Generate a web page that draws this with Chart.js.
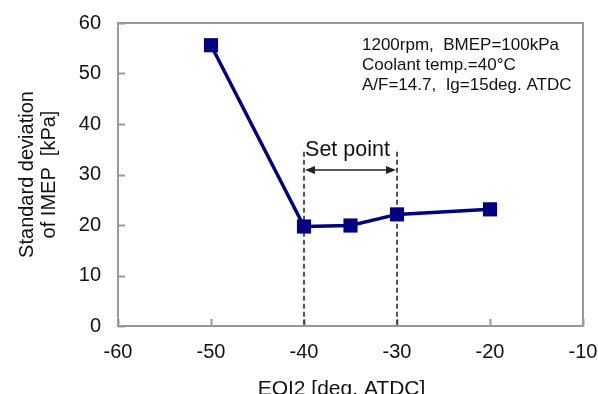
<!DOCTYPE html>
<html>
<head>
<meta charset="utf-8">
<script src="https://cdn.jsdelivr.net/npm/chart.js@4.4.1/dist/chart.umd.min.js"></script>
<style>
  html, body { margin: 0; padding: 0; background: #fff; }
  #chart { display: block; }
</style>
</head>
<body>
<canvas id="chart" width="598" height="394"></canvas>
<script>
const eoi2 = [-50, -40, -35, -30, -20];
const sdImep = [55.6, 19.7, 19.9, 22.1, 23.1];
const xTicks = [-60, -50, -40, -30, -20, -10];
const yTicks = [0, 10, 20, 30, 40, 50, 60];
const setPoint = [-40, -30];
const conditionLines = ['1200rpm,  BMEP=100kPa', 'Coolant temp.=40\u00B0C', 'A/F=14.7,  Ig=15deg. ATDC'];

const FONT = '"Liberation Sans", Arial, sans-serif';

const decor = {
  id: 'decor',
  beforeDatasetsDraw(chart) {
    const { ctx, chartArea: a, scales: { x, y } } = chart;
    ctx.save();
    // frame
    ctx.strokeStyle = '#999';
    ctx.lineWidth = 2;
    ctx.strokeRect(a.left, a.top, a.right - a.left, a.bottom - a.top);
    // inward ticks
    ctx.beginPath();
    yTicks.forEach(v => {
      const py = Math.round(y.getPixelForValue(v)) + 0.5;
      ctx.moveTo(a.left, py);
      ctx.lineTo(a.left + 7, py);
    });
    xTicks.forEach(v => {
      const px = Math.round(x.getPixelForValue(v)) + 0.5;
      ctx.moveTo(px, a.bottom);
      ctx.lineTo(px, a.bottom - 7);
    });
    ctx.stroke();
    // set point dashed lines
    ctx.strokeStyle = '#222';
    ctx.lineWidth = 1.5;
    ctx.setLineDash([5, 3]);
    ctx.beginPath();
    setPoint.forEach(v => {
      const px = x.getPixelForValue(v);
      ctx.moveTo(px, y.getPixelForValue(34.5));
      ctx.lineTo(px, a.bottom);
    });
    ctx.stroke();
    ctx.setLineDash([]);
    // double arrow
    const x1 = x.getPixelForValue(setPoint[0]) + 1;
    const x2 = x.getPixelForValue(setPoint[1]) - 1;
    const ay = y.getPixelForValue(30.9);
    ctx.lineWidth = 1.5;
    ctx.beginPath();
    ctx.moveTo(x1 + 4, ay);
    ctx.lineTo(x2 - 4, ay);
    ctx.stroke();
    ctx.fillStyle = '#222';
    ctx.beginPath();
    ctx.moveTo(x1, ay); ctx.lineTo(x1 + 10, ay - 4); ctx.lineTo(x1 + 10, ay + 4); ctx.closePath();
    ctx.moveTo(x2, ay); ctx.lineTo(x2 - 10, ay - 4); ctx.lineTo(x2 - 10, ay + 4); ctx.closePath();
    ctx.fill();
    ctx.restore();
  },
  afterDraw(chart) {
    const { ctx, scales: { x, y } } = chart;
    ctx.save();
    ctx.fillStyle = '#111';
    ctx.textBaseline = 'alphabetic';
    // set point label
    ctx.font = '21.5px ' + FONT;
    ctx.textAlign = 'center';
    ctx.fillText('Set point', x.getPixelForValue(-35) - 3, y.getPixelForValue(33.6));
    // conditions
    ctx.font = '17px ' + FONT;
    ctx.textAlign = 'left';
    conditionLines.forEach((t, i) => ctx.fillText(t, 362, 50 + i * 20));
    // axis titles
    ctx.font = '21px ' + FONT;
    ctx.textAlign = 'center';
    ctx.fillText('EOI2 [deg. ATDC]', 341.5, 395);
    ctx.font = '20px ' + FONT;
    ctx.translate(0, 174.5);
    ctx.rotate(-Math.PI / 2);
    ctx.fillText('Standard deviation', 0, 33);
    ctx.fillText('of IMEP  [kPa]', 0, 55);
    ctx.restore();
  }
};

new Chart(document.getElementById('chart'), {
  type: 'line',
  data: {
    datasets: [{
      data: eoi2.map((v, i) => ({ x: v, y: sdImep[i] })),
      borderColor: '#000080',
      backgroundColor: '#000080',
      borderWidth: 3.5,
      pointStyle: 'rect',
      pointRadius: 10,
      pointBorderWidth: 0,
      tension: 0
    }]
  },
  options: {
    responsive: false,
    animation: false,
    devicePixelRatio: 1,
    layout: { padding: { top: 23, right: 15, left: 0, bottom: 0 } },
    plugins: { legend: { display: false }, tooltip: { enabled: false } },
    scales: {
      x: {
        type: 'linear',
        min: -60, max: -10,
        afterBuildTicks: s => { s.ticks = xTicks.map(v => ({ value: v })); },
        afterFit: s => { s.height = 68; s.paddingLeft = 0; s.paddingRight = 0; },
        grid: { display: false, drawTicks: false },
        border: { display: false },
        ticks: { padding: 14, color: '#111', font: { family: FONT, size: 20 } }
      },
      y: {
        min: 0, max: 60,
        afterBuildTicks: s => { s.ticks = yTicks.map(v => ({ value: v })); },
        afterFit: s => { s.width = 118; s.paddingTop = 0; s.paddingBottom = 0; },
        grid: { display: false, drawTicks: false },
        border: { display: false },
        ticks: { padding: 17, color: '#111', font: { family: FONT, size: 20 } }
      }
    }
  },
  plugins: [decor]
});
</script>
</body>
</html>
